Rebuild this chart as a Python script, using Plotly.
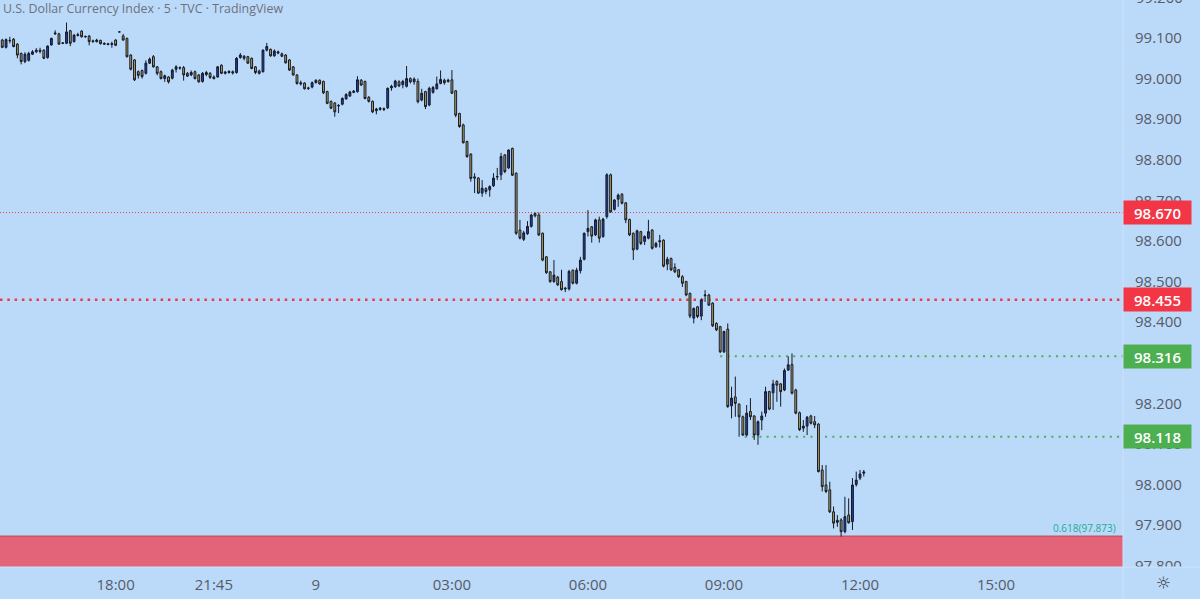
import plotly.graph_objects as go

# ---------------- data (5-minute candles, index 0 = 00:00 of the 9th) ----------------
bar_index = list(range(-84, 146))

open_ = [
    99.080, 99.095, 99.077, 99.093, 99.097, 99.085, 99.062, 99.042, 99.045, 99.060,
    99.066, 99.070, 99.070, 99.052, 99.083, 99.110, 99.110, 99.088, 99.087, 99.118,
    99.091, 99.106, 99.117, 99.104, 99.105, 99.093, 99.091, 99.094, 99.087, 99.086,
    99.084, 99.095, 99.115, 99.105, 99.099, 99.058, 99.046, 99.017, 99.020, 99.013,
    99.038, 99.054, 99.029, 99.017, 99.000, 99.004, 99.001, 99.023, 99.027, 99.027,
    99.013, 99.009, 99.017, 99.009, 98.993, 99.010, 99.013, 99.004, 99.004, 99.033,
    99.013, 99.015, 99.017, 99.015, 99.052, 99.055, 99.054, 99.050, 99.029, 99.019,
    99.017, 99.070, 99.072, 99.056, 99.066, 99.061, 99.058, 99.046, 99.029, 99.009,
    # -4 .. 38
    98.990, 98.989, 98.977, 98.979, 98.990, 98.996, 98.993, 98.968, 98.944, 98.940,
    98.934, 98.937, 98.950, 98.957, 98.966, 98.968, 98.996, 98.993, 98.954, 98.944,
    98.921, 98.924, 98.926, 98.928, 98.977, 98.980, 98.992, 98.985, 98.981, 99.000,
    98.992, 98.993, 98.947, 98.968, 98.935, 98.966, 98.975, 98.988, 98.996, 98.993,
    98.997, 98.970, 98.914,
    # 39 .. 53
    98.886, 98.845, 98.814, 98.758, 98.755, 98.718, 98.729, 98.726, 98.736, 98.759,
    98.763, 98.812, 98.780, 98.828, 98.767,
    # 54 .. 69
    98.627, 98.604, 98.618, 98.636, 98.668, 98.664, 98.619, 98.561, 98.524, 98.500,
    98.511, 98.500, 98.484, 98.482, 98.528, 98.496,
    # 70 .. 99
    98.527, 98.555, 98.623, 98.635, 98.615, 98.652, 98.611, 98.660, 98.763, 98.678,
    98.703, 98.715, 98.694, 98.653, 98.619, 98.580, 98.623, 98.599, 98.607, 98.627,
    98.586, 98.601, 98.602, 98.543, 98.557, 98.535, 98.529, 98.512, 98.500, 98.471,
    # 100 .. 132
    98.410, 98.438, 98.415, 98.465, 98.467, 98.447, 98.397, 98.389, 98.327, 98.383,
    98.194, 98.216, 98.198, 98.167, 98.122, 98.180, 98.169, 98.122, 98.159, 98.176,
    98.229, 98.226, 98.254, 98.248, 98.233, 98.282, 98.296, 98.233, 98.177, 98.139,
    98.144, 98.169, 98.155,
    # 133 .. 145
    98.149, 98.036, 97.999, 97.987, 97.933, 97.907, 97.913, 97.884, 97.925, 97.909,
    98.000, 98.016, 98.028,
]

high = [
    99.100, 99.098, 99.099, 99.103, 99.100, 99.087, 99.064, 99.065, 99.066, 99.070,
    99.075, 99.076, 99.072, 99.082, 99.101, 99.119, 99.113, 99.090, 99.138, 99.120,
    99.110, 99.113, 99.119, 99.106, 99.107, 99.096, 99.098, 99.096, 99.089, 99.088,
    99.091, 99.097, 99.116, 99.110, 99.101, 99.060, 99.048, 99.020, 99.022, 99.045,
    99.052, 99.058, 99.031, 99.020, 99.010, 99.006, 99.024, 99.033, 99.030, 99.031,
    99.016, 99.020, 99.020, 99.011, 99.016, 99.019, 99.016, 99.008, 99.031, 99.035,
    99.019, 99.020, 99.020, 99.053, 99.063, 99.058, 99.056, 99.052, 99.031, 99.022,
    99.072, 99.088, 99.074, 99.072, 99.069, 99.064, 99.060, 99.048, 99.031, 99.011,
    98.995, 98.991, 98.980, 98.993, 98.998, 98.998, 98.995, 98.970, 98.946, 98.942,
    98.937, 98.954, 98.964, 98.970, 98.972, 99.006, 98.999, 98.995, 98.957, 98.946,
    98.928, 98.930, 98.929, 98.978, 98.985, 98.997, 98.996, 98.997, 99.031, 99.003,
    99.003, 99.000, 98.975, 98.970, 98.980, 98.982, 99.005, 99.020, 99.000, 99.000,
    99.021, 98.972, 98.916,
    98.889, 98.847, 98.816, 98.767, 98.757, 98.750, 98.732, 98.737, 98.767, 98.780,
    98.817, 98.814, 98.826, 98.830, 98.769,
    98.652, 98.625, 98.649, 98.667, 98.670, 98.670, 98.621, 98.563, 98.526, 98.553,
    98.514, 98.529, 98.487, 98.529, 98.530, 98.534,
    98.561, 98.621, 98.676, 98.637, 98.655, 98.660, 98.657, 98.767, 98.766, 98.703,
    98.717, 98.718, 98.696, 98.655, 98.621, 98.628, 98.625, 98.614, 98.652, 98.629,
    98.598, 98.615, 98.604, 98.561, 98.559, 98.545, 98.531, 98.516, 98.502, 98.473,
    98.436, 98.440, 98.458, 98.479, 98.470, 98.449, 98.400, 98.391, 98.379, 98.397,
    98.241, 98.266, 98.200, 98.170, 98.196, 98.213, 98.171, 98.158, 98.180, 98.241,
    98.231, 98.258, 98.257, 98.250, 98.286, 98.316, 98.323, 98.236, 98.180, 98.159,
    98.169, 98.172, 98.169,
    98.151, 98.048, 98.048, 98.007, 97.946, 97.925, 97.917, 97.970, 97.966, 98.016,
    98.032, 98.036, 98.036,
]

low = [
    99.076, 99.075, 99.074, 99.087, 99.077, 99.050, 99.035, 99.038, 99.042, 99.058,
    99.063, 99.062, 99.048, 99.049, 99.081, 99.108, 99.083, 99.085, 99.085, 99.080,
    99.089, 99.104, 99.101, 99.101, 99.082, 99.089, 99.089, 99.084, 99.083, 99.082,
    99.076, 99.080, 99.114, 99.093, 99.052, 99.020, 98.994, 99.000, 99.000, 99.010,
    99.036, 99.027, 99.008, 98.998, 98.992, 98.988, 98.998, 99.015, 99.022, 98.995,
    99.004, 99.006, 98.998, 98.990, 98.990, 99.006, 98.999, 98.998, 99.002, 99.011,
    99.010, 99.012, 99.010, 99.012, 99.049, 99.045, 99.036, 99.023, 99.011, 99.010,
    99.015, 99.067, 99.054, 99.054, 99.060, 99.053, 99.037, 99.019, 99.007, 98.985,
    98.983, 98.973, 98.972, 98.976, 98.988, 98.985, 98.962, 98.937, 98.925, 98.906,
    98.915, 98.934, 98.948, 98.955, 98.964, 98.965, 98.982, 98.949, 98.941, 98.915,
    98.912, 98.921, 98.920, 98.925, 98.970, 98.977, 98.979, 98.976, 98.978, 98.988,
    98.985, 98.939, 98.944, 98.925, 98.932, 98.963, 98.973, 98.986, 98.985, 98.990,
    98.962, 98.905, 98.879,
    98.840, 98.805, 98.746, 98.718, 98.716, 98.709, 98.715, 98.709, 98.733, 98.750,
    98.750, 98.767, 98.777, 98.760, 98.615,
    98.604, 98.600, 98.615, 98.633, 98.658, 98.612, 98.550, 98.519, 98.497, 98.497,
    98.489, 98.478, 98.474, 98.478, 98.493, 98.493,
    98.520, 98.552, 98.611, 98.596, 98.612, 98.596, 98.608, 98.655, 98.669, 98.675,
    98.684, 98.690, 98.644, 98.612, 98.553, 98.577, 98.590, 98.590, 98.604, 98.579,
    98.583, 98.584, 98.535, 98.528, 98.526, 98.521, 98.509, 98.487, 98.464, 98.410,
    98.397, 98.410, 98.405, 98.450, 98.440, 98.388, 98.378, 98.324, 98.324, 98.189,
    98.163, 98.167, 98.118, 98.120, 98.119, 98.159, 98.110, 98.098, 98.134, 98.167,
    98.183, 98.184, 98.204, 98.192, 98.230, 98.280, 98.222, 98.173, 98.132, 98.130,
    98.122, 98.148, 98.139,
    98.030, 97.983, 97.979, 97.930, 97.892, 97.896, 97.872, 97.880, 97.904, 97.888,
    97.995, 98.011, 98.020,
]

close = [
    99.096, 99.077, 99.096, 99.094, 99.079, 99.058, 99.042, 99.060, 99.062, 99.066,
    99.070, 99.067, 99.050, 99.080, 99.099, 99.112, 99.085, 99.087, 99.115, 99.087,
    99.107, 99.108, 99.103, 99.103, 99.091, 99.091, 99.095, 99.086, 99.085, 99.084,
    99.086, 99.082, 99.115, 99.095, 99.054, 99.023, 98.997, 99.008, 99.005, 99.038,
    99.048, 99.029, 99.013, 99.000, 99.007, 98.992, 99.021, 99.029, 99.026, 99.009,
    99.006, 99.015, 99.000, 98.992, 99.013, 99.015, 99.003, 99.000, 99.029, 99.013,
    99.016, 99.018, 99.014, 99.050, 99.058, 99.050, 99.038, 99.025, 99.015, 99.013,
    99.070, 99.079, 99.056, 99.068, 99.063, 99.055, 99.039, 99.021, 99.009, 98.988,
    98.987, 98.975, 98.976, 98.990, 98.996, 98.987, 98.965, 98.939, 98.927, 98.918,
    98.933, 98.951, 98.961, 98.967, 98.969, 98.997, 98.984, 98.951, 98.944, 98.918,
    98.925, 98.927, 98.924, 98.976, 98.981, 98.994, 98.982, 98.993, 99.000, 98.992,
    98.999, 98.943, 98.964, 98.931, 98.976, 98.978, 98.987, 98.998, 98.990, 98.996,
    98.964, 98.910, 98.882,
    98.842, 98.808, 98.754, 98.755, 98.718, 98.730, 98.722, 98.734, 98.755, 98.758,
    98.808, 98.771, 98.824, 98.762, 98.619,
    98.607, 98.620, 98.636, 98.664, 98.662, 98.615, 98.553, 98.522, 98.500, 98.516,
    98.492, 98.480, 98.482, 98.525, 98.496, 98.528,
    98.553, 98.619, 98.631, 98.612, 98.652, 98.607, 98.654, 98.763, 98.672, 98.701,
    98.713, 98.693, 98.652, 98.615, 98.578, 98.625, 98.594, 98.611, 98.623, 98.582,
    98.594, 98.598, 98.538, 98.555, 98.529, 98.524, 98.512, 98.496, 98.467, 98.415,
    98.434, 98.414, 98.455, 98.467, 98.442, 98.391, 98.381, 98.327, 98.377, 98.192,
    98.213, 98.200, 98.167, 98.122, 98.176, 98.167, 98.122, 98.155, 98.169, 98.229,
    98.186, 98.248, 98.245, 98.229, 98.281, 98.295, 98.225, 98.176, 98.135, 98.144,
    98.166, 98.151, 98.147,
    98.032, 97.995, 97.983, 97.933, 97.905, 97.912, 97.884, 97.921, 97.906, 97.999,
    98.011, 98.026, 98.031,
]

# time-axis labels (bar index of each label)
time_tick_index = [-53, -27, 0, 36, 72, 108, 144, 180]
time_tick_text = ["18:00", "21:45", "9", "03:00", "06:00", "09:00", "12:00", "15:00"]

# horizontal levels
red_levels = [98.670, 98.455]
green_levels = [98.316, 98.118]
green_start_index = [107, 113.5]
fib_level = 97.873
fib_label = "0.618(97.873)"
title_text = "U.S. Dollar Currency Index · 5 · TVC · TradingView"

price_ticks = [round(97.8 + 0.1 * k, 1) for k in range(14)]

# ---------------- styling ----------------
BG = "#bbdafa"
TAN = "#b7a35c"
BLUE = "#1f3fa6"
EDGE = "#161a26"
RED = "#f23645"
GREEN = "#4caf50"
ZONE = "#e36479"
TXT = "#575b66"
FONT = "Open Sans"
X_RANGE = [-83.6, 213.6]
Y_RANGE = [97.797, 99.1936]

fig = go.Figure()
fig.add_trace(go.Candlestick(
    x=bar_index, open=open_, high=high, low=low, close=close,
    increasing=dict(fillcolor=BLUE, line=dict(color=EDGE, width=1)),
    decreasing=dict(fillcolor=TAN, line=dict(color=EDGE, width=1)),
    whiskerwidth=0, showlegend=False, hoverinfo="skip",
))

shapes = []
# fib zone at the bottom
shapes.append(dict(type="rect", xref="paper", yref="y", x0=0, x1=1,
                   y0=Y_RANGE[0] - 0.2, y1=fib_level, fillcolor=ZONE,
                   line=dict(width=0), layer="below"))
shapes.append(dict(type="line", xref="paper", yref="y", x0=0, x1=1,
                   y0=fib_level, y1=fib_level, line=dict(color="#c85465", width=1.5),
                   layer="below"))
# red levels
shapes.append(dict(type="line", xref="paper", yref="y", x0=0, x1=1,
                   y0=red_levels[0], y1=red_levels[0],
                   line=dict(color=RED, width=1, dash="1px,2px"), layer="below"))
shapes.append(dict(type="line", xref="paper", yref="y", x0=0, x1=1,
                   y0=red_levels[1], y1=red_levels[1],
                   line=dict(color=RED, width=2.5, dash="2.5px,4.8px"), layer="below"))
# green levels
for lvl, x0 in zip(green_levels, green_start_index):
    shapes.append(dict(type="line", xref="x", yref="y", x0=x0, x1=X_RANGE[1],
                       y0=lvl, y1=lvl,
                       line=dict(color=GREEN, width=2, dash="2px,5.3px"), layer="below"))
# cover for the price axis below the plot + separators
shapes.append(dict(type="rect", xref="paper", yref="paper", x0=1, x1=1.1,
                   y0=-0.1, y1=0, fillcolor=BG, line=dict(width=0), layer="above"))
shapes.append(dict(type="line", xref="paper", yref="paper", x0=1, x1=1,
                   y0=-0.1, y1=1, line=dict(color="#cde3fb", width=1), layer="above"))
shapes.append(dict(type="line", xref="paper", yref="paper", x0=0, x1=1.1,
                   y0=0, y1=0, line=dict(color="#cde3fb", width=1), layer="above"))

annotations = []
for lvl in red_levels:
    annotations.append(dict(xref="paper", yref="y", x=1, y=lvl, xanchor="left",
                            yanchor="middle", text=f"{lvl:.3f}", showarrow=False,
                            bgcolor=RED, width=63, height=19, borderpad=2,
                            font=dict(family=FONT, size=15, color="white", weight=600)))
for lvl in green_levels:
    annotations.append(dict(xref="paper", yref="y", x=1, y=lvl, xanchor="left",
                            yanchor="middle", text=f"{lvl:.3f}", showarrow=False,
                            bgcolor=GREEN, width=63, height=19, borderpad=2,
                            font=dict(family=FONT, size=15, color="white", weight=600)))
annotations.append(dict(xref="paper", yref="y", x=1, y=fib_level, xanchor="right",
                        yanchor="bottom", xshift=-5, yshift=-1, text=fib_label,
                        showarrow=False, font=dict(family=FONT, size=10, color="#22ab94")))
annotations.append(dict(xref="paper", yref="paper", x=0, y=1, xanchor="left",
                        yanchor="top", xshift=1, yshift=2, text=title_text,
                        showarrow=False, font=dict(family=FONT, size=12.4, color="#6d717c")))
annotations.append(dict(xref="paper", yref="paper", x=1, y=1 + 2.6 / 567, xanchor="left",
                        yanchor="middle", xshift=11, text="99.200", showarrow=False,
                        font=dict(family=FONT, size=15, color=TXT)))
annotations.append(dict(xref="paper", yref="paper", x=1 + 40 / 1123, y=-16 / 567,
                        xanchor="center", yanchor="middle", text="☼", showarrow=False,
                        font=dict(family="DejaVu Sans", size=17, color="#3a3e4a")))

fig.update_layout(
    width=1200, height=599,
    margin=dict(l=0, r=77, t=0, b=32),
    paper_bgcolor=BG, plot_bgcolor=BG,
    font=dict(family=FONT, size=15, color=TXT),
    shapes=shapes, annotations=annotations,
    showlegend=False,
    xaxis=dict(range=X_RANGE, tickmode="array", tickvals=time_tick_index,
               ticktext=time_tick_text, showgrid=False, zeroline=False,
               showline=False, ticks="", ticklabelstandoff=7,
               rangeslider=dict(visible=False),
               tickfont=dict(family=FONT, size=15, color=TXT)),
    yaxis=dict(range=Y_RANGE, side="right", tickmode="array", tickvals=price_ticks,
               ticktext=[f"{v:.3f}" for v in price_ticks], showgrid=False,
               zeroline=False, showline=False, ticks="", ticklabelstandoff=11,
               tickfont=dict(family=FONT, size=15, color=TXT)),
)

fig.write_html("out.html", config={"displayModeBar": False},
               post_script="document.body.style.margin='0';")
